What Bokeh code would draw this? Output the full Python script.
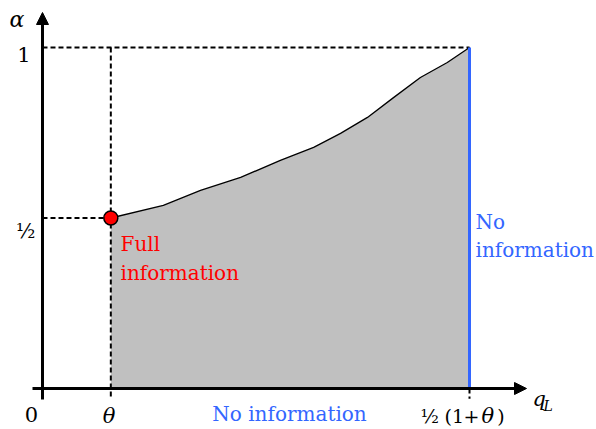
from bokeh.plotting import figure
from bokeh.models import Range1d, Arrow, NormalHead, Label
from bokeh.embed import file_html
from bokeh.resources import INLINE

# Schematic values (q_L on x, alpha on y)
theta = 0.16          # position of theta on the q_L axis
q_max = 1.0           # position of 1/2 (1 + theta)
alpha_half = 0.5
alpha_one = 1.0

curve_q = [0.16, 0.283, 0.370, 0.464, 0.557, 0.635, 0.698, 0.761, 0.822, 0.885, 0.948, 1.0]
curve_alpha = [0.5, 0.537, 0.581, 0.619, 0.669, 0.707, 0.748, 0.795, 0.853, 0.912, 0.956, 1.0]

BLUE = "#3366ff"
RED = "#ff0000"
FONT = "DejaVu Serif"

p = figure(width=596, height=429, x_range=Range1d(-0.09836, 1.29742), y_range=Range1d(-0.12023, 1.13783),
           output_backend="svg", toolbar_location=None, min_border=0,
           x_axis_type=None, y_axis_type=None, outline_line_color=None)
p.grid.visible = False

# shaded region
p.patch(curve_q + [q_max, theta], curve_alpha + [0, 0], fill_color="#c0c0c0", line_color=None)
p.line(curve_q, curve_alpha, line_color="black", line_width=1.3)

# dashed guide lines
dash = dict(line_color="black", line_width=2, line_dash="5 3")
p.line([0, q_max], [alpha_one, alpha_one], **dash)
p.line([0, theta], [alpha_half, alpha_half], **dash)
p.line([theta, theta], [alpha_one, -0.03], **dash)
p.line([q_max, q_max], [0, -0.03], **dash)

# axes with arrows
p.add_layout(Arrow(end=NormalHead(size=12, fill_color="black", line_color="black"),
                   x_start=0, y_start=-0.032, x_end=0, y_end=1.1026, line_width=3, line_color="black"))
p.add_layout(Arrow(end=NormalHead(size=12, fill_color="black", line_color="black"),
                   x_start=-0.0234, y_start=0, x_end=1.1335, y_end=0, line_width=3, line_color="black"))

# blue "no information" boundaries
p.line([theta, q_max], [0, 0], line_color=BLUE, line_width=3)
p.line([q_max, q_max], [0, alpha_one], line_color=BLUE, line_width=3)

# full information point
p.scatter([theta], [alpha_half], size=14, fill_color=RED, line_color="black", line_width=1.5)

def txt(x, y, s, size="20px", color="black", align="left", style="normal"):
    p.add_layout(Label(x=x, y=y, text=s, text_font=FONT, text_font_size=size, text_color=color,
                       text_align=align, text_baseline="alphabetic", text_font_style=style))

# axis labels and ticks
txt(-0.0597, 1.082, "α", size="22px", align="center", style="italic")
txt(-0.028, 0.9795, "1", size="21px", align="right")
txt(-0.0164, 0.4633, "½", size="20px", align="right")
txt(-0.0258, -0.0762, "0", size="21px", align="center")
txt(0.1557, -0.0792, "θ", size="21px", align="center", style="italic")
txt(0.8852, -0.0792, "½", size="19px")
txt(0.9415, -0.0792, "(1", size="19px")
txt(0.9860, -0.0792, "+", size="19px")
txt(1.0281, -0.0792, "θ", size="21px", style="italic")
txt(1.0650, -0.0792, ")", size="19px")
txt(1.1475, -0.032, "q", size="21px", style="italic")
txt(1.1733, -0.050, "L", size="14px", style="italic")

# annotations
txt(0.1827, 0.425, "Full", color=RED)
txt(0.1827, 0.340, "information", color=RED)
txt(1.0140, 0.4897, "No", color=BLUE)
txt(1.0140, 0.4076, "information", color=BLUE)
txt(0.5785, -0.0762, "No information", color=BLUE, align="center")

open("out.html", "w").write(file_html(p, INLINE))
